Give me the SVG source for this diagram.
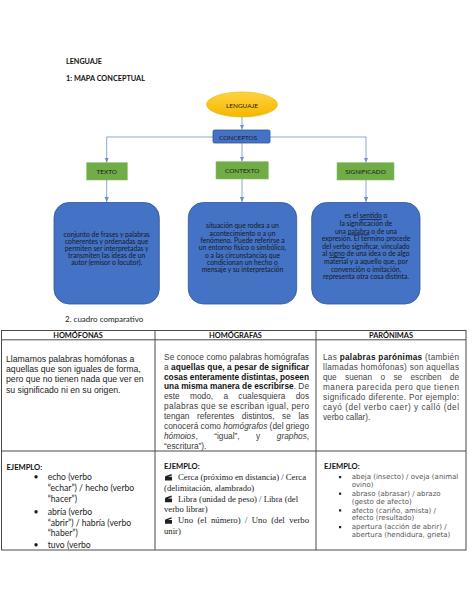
<svg xmlns="http://www.w3.org/2000/svg" width="474" height="613" viewBox="0 0 474 613">
<defs>
<marker id="arr" markerWidth="6" markerHeight="6" refX="5" refY="3" orient="auto" markerUnits="userSpaceOnUse">
<path d="M0,0.8 L5,3 L0,5.2 z" fill="#6F8FCB"/>
</marker>
<linearGradient id="gold" x1="0" y1="0" x2="0" y2="1">
<stop offset="0" stop-color="#FFD23F"/>
<stop offset="1" stop-color="#F5B800"/>
</linearGradient>
<g id="clap">
<path d="M0,3.2 h7 v3.8 h-7 z M0.2,2.6 L6.4,0.4 L6.9,1.8 L0.7,4 z" fill="#222"/>
</g>
</defs>
<style>
.cal{font-family:Lato,"Open Sans",sans-serif}
.ttl{font-family:Lato,"Open Sans",sans-serif;font-weight:bold;font-size:8px;fill:#111}
.box{fill:#4472C4;stroke:#2F5597;stroke-width:0.8}
.grn{fill:#70AD47;stroke:#8BC06A;stroke-width:0.6}
.lbl{font-family:Lato,"Open Sans",sans-serif;font-size:6.4px;fill:#1a1a1a;text-anchor:middle}
.btx{font-family:Lato,"Open Sans",sans-serif;font-size:6.8px;fill:#141a26;text-anchor:middle}
.con{stroke:#6F8FCB;stroke-width:0.8;fill:none}
.tb{stroke:#4a4a4a;stroke-width:1;fill:none}
.hd{font-family:Lato,"Open Sans",sans-serif;font-weight:bold;font-size:7.4px;fill:#111;text-anchor:middle}
.ar{font-family:"Liberation Sans",Arial,sans-serif}
.c1{font-size:8.7px;fill:#1a1a1a}
.c2{font-size:8.3px;fill:#3a3a3a}
.c3{font-size:8.2px;fill:#444}
.b{font-weight:bold;fill:#111}
.ej{font-family:Lato,"Open Sans",sans-serif;font-weight:bold;font-size:7.6px;fill:#111}
.l1{font-family:Lato,"Open Sans",sans-serif;font-size:8.6px;fill:#1a1a1a}
.tm{font-family:"Liberation Serif","Times New Roman",serif;font-size:8.7px;fill:#1a1a1a}
.dv{font-family:"DejaVu Sans",Verdana,sans-serif;font-size:7px;fill:#555}
</style>

<g id="titles">
<text class="ttl" x="66" y="63.5" textLength="36" lengthAdjust="spacingAndGlyphs">LENGUAJE</text>
<text class="ttl" x="66" y="80.5" textLength="79" lengthAdjust="spacingAndGlyphs">1: MAPA CONCEPTUAL</text>
<text class="cal" x="65" y="321.8" font-size="8" fill="#222">2. cuadro comparativo</text>
</g>

<g id="connectors">
<line class="con" x1="242" y1="117" x2="242" y2="129.5" marker-end="url(#arr)"/>
<line class="con" x1="106.7" y1="137" x2="366" y2="137"/>
<line class="con" x1="106.7" y1="137" x2="106.7" y2="162.5" marker-end="url(#arr)"/>
<line class="con" x1="242" y1="143" x2="242" y2="161.5" marker-end="url(#arr)"/>
<line class="con" x1="366" y1="137" x2="366" y2="162.5" marker-end="url(#arr)"/>
<line class="con" x1="106.7" y1="180" x2="106.7" y2="202" marker-end="url(#arr)"/>
<line class="con" x1="242" y1="179" x2="242" y2="202" marker-end="url(#arr)"/>
<line class="con" x1="366" y1="180" x2="366" y2="202" marker-end="url(#arr)"/>
</g>

<g id="n-lenguaje">
<ellipse cx="242" cy="104.5" rx="35.5" ry="12.5" fill="url(#gold)" stroke="#E8B100" stroke-width="0.6"/>
<text class="lbl" x="242" y="107.6" font-size="6.6">LENGUAJE</text>
</g>

<g id="n-conceptos">
<rect class="box" x="213" y="130" width="57" height="13" rx="1.5"/>
<text class="lbl" x="219" y="140" style="text-anchor:start" font-size="6.6" fill="#0f1c3a">CONCEPTOS</text>
</g>

<g id="n-texto">
<rect class="grn" x="86.7" y="162.7" width="40.6" height="17.3"/>
<text class="lbl" x="106.7" y="174.3">TEXTO</text>
</g>
<g id="n-contexto">
<rect class="grn" x="216" y="161.7" width="52.3" height="17.3"/>
<text class="lbl" x="242.2" y="173">CONTEXTO</text>
</g>
<g id="n-significado">
<rect class="grn" x="337" y="162.7" width="57" height="17.3"/>
<text class="lbl" x="365.5" y="174.3">SIGNIFICADO</text>
</g>

<g id="n-def-texto">
<rect class="box" x="54" y="202.5" width="105.3" height="101.5" rx="15"/>
<text class="btx" x="106.7" y="236.6">conjunto de frases y palabras</text>
<text class="btx" x="106.7" y="243.8">coherentes y ordenadas que</text>
<text class="btx" x="106.7" y="251">permiten ser interpretadas y</text>
<text class="btx" x="106.7" y="258.2">transmiten las ideas de un</text>
<text class="btx" x="106.7" y="265.4">autor (emisor o locutor).</text>
</g>

<g id="n-def-contexto">
<rect class="box" x="188.3" y="202.5" width="108.4" height="101.5" rx="15"/>
<text class="btx" x="242.5" y="228.3">situación que rodea a un</text>
<text class="btx" x="242.5" y="235.6">acontecimiento o a un</text>
<text class="btx" x="242.5" y="242.9">fenómeno. Puede referirse a</text>
<text class="btx" x="242.5" y="250.2">un entorno físico o simbólico,</text>
<text class="btx" x="242.5" y="257.5">o a las circunstancias que</text>
<text class="btx" x="242.5" y="264.8">condicionan un hecho o</text>
<text class="btx" x="242.5" y="272.1">mensaje y su interpretación</text>
</g>

<g id="n-def-significado">
<rect class="box" x="311.7" y="202.5" width="108.3" height="101.5" rx="15"/>
<text class="btx" x="366" y="218.3">es el <tspan text-decoration="underline">sentido</tspan> o</text>
<text class="btx" x="366" y="225.9">la significación de</text>
<text class="btx" x="366" y="233.5">una <tspan text-decoration="underline">palabra</tspan> o de una</text>
<text class="btx" x="366" y="241.1">expresión. El término procede</text>
<text class="btx" x="366" y="248.7">del verbo significar, vinculado</text>
<text class="btx" x="366" y="256.3">al <tspan text-decoration="underline">signo</tspan> de una idea o de algo</text>
<text class="btx" x="366" y="263.9">material y a aquello que, por</text>
<text class="btx" x="366" y="271.5">convención o imitación,</text>
<text class="btx" x="366" y="279.1">representa otra cosa distinta.</text>
</g>

<g id="table">
<rect class="tb" x="1.5" y="330.5" width="464.5" height="219.5"/>
<line class="tb" x1="1.5" y1="339.8" x2="466" y2="339.8"/>
<line class="tb" x1="1.5" y1="451" x2="466" y2="451"/>
<line class="tb" x1="155" y1="330.5" x2="155" y2="550"/>
<line class="tb" x1="316" y1="330.5" x2="316" y2="550"/>
<text class="hd" x="78" y="337.6">HOMÓFONAS</text>
<text class="hd" x="235.5" y="337.6">HOMÓGRAFAS</text>
<text class="hd" x="391" y="337.6">PARÓNIMAS</text>
</g>

<g id="cell-homofonas">
<text class="ar c1" x="6" y="361.5">Llamamos palabras homófonas a</text>
<text class="ar c1" x="6" y="371.9">aquellas que son iguales de forma,</text>
<text class="ar c1" x="6" y="382.3">pero que no tienen nada que ver en</text>
<text class="ar c1" x="6" y="392.6">su significado ni en su origen.</text>
</g>

<g id="cell-homografas">
<text class="ar c2" x="164" y="359.7" textLength="145" lengthAdjust="spacing">Se conoce como palabras homógrafas</text>
<text class="ar c2" x="164" y="369.6" textLength="145" lengthAdjust="spacing">a <tspan class="b">aquellas que, a pesar de significar</tspan></text>
<text class="ar c2 b" x="164" y="379.5" textLength="145" lengthAdjust="spacing">cosas enteramente distintas, poseen</text>
<text class="ar c2" x="164" y="389.4" textLength="145" lengthAdjust="spacing"><tspan class="b">una misma manera de escribirse</tspan>. De</text>
<text class="ar c2" y="399.3"><tspan x="164">este</tspan><tspan x="190">modo,</tspan><tspan x="223.4">a</tspan><tspan x="238.3">cualesquiera</tspan><tspan x="295.7">dos</tspan></text>
<text class="ar c2" x="164" y="409.2" textLength="145" lengthAdjust="spacing">palabras que se escriban igual, pero</text>
<text class="ar c2" y="419.1"><tspan x="164">tengan</tspan><tspan x="196.9">referentes</tspan><tspan x="241.8">distintos,</tspan><tspan x="282.1">se</tspan><tspan x="298.4">las</tspan></text>
<text class="ar c2" x="164" y="429" textLength="145" lengthAdjust="spacing">conocerá como <tspan font-style="italic">homógrafos</tspan> (del griego</text>
<text class="ar c2" y="438.9"><tspan x="164" font-style="italic">hómoios</tspan><tspan>,</tspan><tspan x="214.2">“igual”,</tspan><tspan x="256.1">y</tspan><tspan x="276.8" font-style="italic">graphos</tspan><tspan>,</tspan></text>
<text class="ar c2" x="164" y="448.8">“escritura”).</text>
</g>

<g id="cell-paronimas">
<text class="ar c3" x="323" y="359.7" textLength="136" lengthAdjust="spacing">Las <tspan class="b">palabras  parónimas</tspan> (también</text>
<text class="ar c3" x="323" y="369.7" textLength="136" lengthAdjust="spacing">llamadas homófonas) son aquellas</text>
<text class="ar c3" y="379.7"><tspan x="323">que</tspan><tspan x="345.1">suenan</tspan><tspan x="380.4">o</tspan><tspan x="393.4">se</tspan><tspan x="410.5">escriben</tspan><tspan x="449.9">de</tspan></text>
<text class="ar c3" x="323" y="389.7" textLength="136" lengthAdjust="spacing">manera parecida pero que tienen</text>
<text class="ar c3" x="323" y="399.7" textLength="136" lengthAdjust="spacing">significado diferente. Por ejemplo:</text>
<text class="ar c3" x="323" y="409.7" textLength="136" lengthAdjust="spacing">cayó (del verbo caer) y calló (del</text>
<text class="ar c3" x="323" y="419.7">verbo callar).</text>
</g>

<g id="cell-ej-homofonas">
<text class="ej" x="6.5" y="469.5">EJEMPLO:</text>
<text class="l1" x="33.5" y="479.8">•</text>
<text class="l1" x="47.7" y="479.8">echo (verbo</text>
<text class="l1" x="47.7" y="491.2">“echar”) / hecho (verbo</text>
<text class="l1" x="47.7" y="502.2">“hacer”)</text>
<text class="l1" x="33.5" y="514.7">•</text>
<text class="l1" x="47.7" y="514.7">abría (verbo</text>
<text class="l1" x="47.7" y="525.7">“abrir”) / habría (verbo</text>
<text class="l1" x="47.7" y="536.2">“haber”)</text>
<text class="l1" x="33.5" y="548">•</text>
<text class="l1" x="47.7" y="548">tuvo (verbo</text>
</g>

<g id="cell-ej-homografas">
<text class="ej" x="164" y="469">EJEMPLO:</text>
<use href="#clap" x="165" y="473.6"/>
<text class="tm" x="178" y="479.8">Cerca (próximo en distancia) / Cerca</text>
<text class="tm" x="164" y="490.5">(delimitación, alambrado)</text>
<use href="#clap" x="165" y="495.2"/>
<text class="tm" x="178" y="501.5">Libra (unidad de peso) / Libra (del</text>
<text class="tm" x="164" y="512.2">verbo librar)</text>
<use href="#clap" x="165" y="516.8"/>
<text class="tm" x="178" y="523" textLength="131" lengthAdjust="spacing" word-spacing="2.2">Uno (el número) / Uno (del verbo</text>
<text class="tm" x="164" y="533.8">unir)</text>
</g>

<g id="cell-ej-paronimas">
<text class="ej" x="324" y="469.2">EJEMPLO:</text>
<rect x="339" y="476" width="2.2" height="2.2" fill="#222"/>
<text class="dv" x="351.7" y="479.2">abeja (insecto) / oveja (animal</text>
<text class="dv" x="351.7" y="486.8">ovino)</text>
<rect x="339" y="492.6" width="2.2" height="2.2" fill="#222"/>
<text class="dv" x="351.7" y="495.8">abraso (abrasar) / abrazo</text>
<text class="dv" x="351.7" y="503.5">(gesto de afecto)</text>
<rect x="339" y="509.3" width="2.2" height="2.2" fill="#222"/>
<text class="dv" x="351.7" y="512.5">afecto (cariño, amista) /</text>
<text class="dv" x="351.7" y="520.2">efecto (resultado)</text>
<rect x="339" y="526" width="2.2" height="2.2" fill="#222"/>
<text class="dv" x="351.7" y="529.2">apertura (acción de abrir) /</text>
<text class="dv" x="351.7" y="536.8">abertura (hendidura, grieta)</text>
</g>
</svg>
